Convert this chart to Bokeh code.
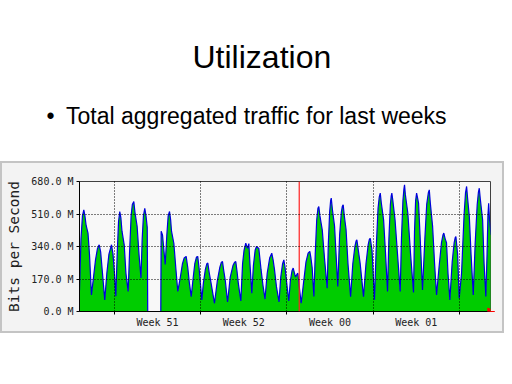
from bokeh.plotting import figure
from bokeh.models import Range1d, FixedTicker, Span, Arrow, NormalHead, Title
from bokeh.embed import file_html
from bokeh.resources import INLINE

# ---------------- data ----------------
title_text = "Utilization"
bullet_text = "Total aggregated traffic for last weeks"

# time in days since the start of Week 51 (one line per daily cycle)
days = [
    -2.84, -2.72, -2.60, -2.49, -2.40, -2.30, -2.15, -2.03, -1.87,
    -1.70, -1.54, -1.38, -1.24, -1.12, -1.00, -0.79,
    -0.62, -0.45, -0.24, -0.12, 0.00, 0.11,
    0.22, 0.33, 0.43, 0.52, 0.61, 0.79, 0.93, 1.11,
    1.22, 1.35, 1.45, 1.57, 1.66, 1.84, 1.99, 2.15,
    2.25, 2.35, 2.46, 2.56, 2.66, 2.70,
    3.76,
    3.79, 3.90, 4.12, 4.25, 4.36, 4.47, 4.56, 4.63, 4.82, 4.99, 5.14,
    5.35, 5.52, 5.66, 5.82, 5.95, 6.08, 6.23,
    6.38, 6.52, 6.66, 6.76, 6.88, 7.09,
    7.22, 7.38, 7.50, 7.58, 7.70, 7.84, 8.12,
    8.35, 8.55, 8.68, 8.77, 8.88, 9.00, 9.18,
    9.40, 9.62, 9.75, 9.85, 9.95, 10.05, 10.26,
    10.40, 10.52, 10.66, 10.80, 10.91, 11.00, 11.15,
    11.28, 11.42, 11.53, 11.72, 11.90, 12.05, 12.22,
    12.40, 12.60, 12.77, 12.88, 12.99, 13.15, 13.36,
    13.50, 13.65, 13.75, 13.85, 13.93, 14.15,
    14.28, 14.42, 14.51, 14.70, 14.82, 14.89, 15.02, 15.16,
    15.35, 15.55, 15.72, 15.86, 15.95, 16.05, 16.19,
    16.30, 16.42, 16.52, 16.59, 16.68, 16.87, 17.05, 17.27,
    17.36, 17.47, 17.55, 17.60, 17.70, 17.87, 17.99, 18.13,
    18.28, 18.42, 18.50, 18.57, 18.66, 18.80, 18.96, 19.17,
    19.35, 19.52, 19.62, 19.68, 19.80, 19.95, 20.22,
    20.42, 20.60, 20.70, 20.77, 20.91, 21.11,
    21.25, 21.40, 21.50, 21.58, 21.66, 21.85, 22.01, 22.17,
    22.28, 22.40, 22.47, 22.52, 22.60, 22.78, 22.98, 23.20,
    23.30, 23.42, 23.50, 23.55, 23.62, 23.82, 24.04, 24.28,
    24.36, 24.45, 24.53, 24.62, 24.69, 24.81, 25.01,
    25.20, 25.35, 25.48, 25.56, 25.64, 25.83, 25.99, 26.15,
    26.35, 26.55, 26.67, 26.74, 26.85, 26.96, 27.08, 27.23,
    27.42, 27.58, 27.66, 27.72, 27.80, 27.86, 27.99,
    28.18, 28.38, 28.50, 28.59, 28.66, 28.81, 28.95, 29.13,
    29.28, 29.45, 29.55, 29.62, 29.70, 29.89, 30.01, 30.15,
    30.25, 30.32, 30.38, 30.45, 30.57,
]

# traffic in Mbit/s (same layout as days)
traffic = [
    110, 380, 500, 532, 500, 450, 410, 300, 87,
    180, 270, 330, 349, 310, 220, 61,
    200, 300, 349, 300, 200, 80,
    300, 470, 523, 490, 420, 349, 200, 105,
    300, 500, 560, 575, 520, 445, 300, 175,
    380, 500, 540, 500, 440, 0,
    0,
    420, 400, 246, 400, 500, 523, 480, 420, 357, 220, 105,
    180, 250, 280, 288, 230, 150, 78,
    170, 250, 285, 288, 220, 61,
    150, 220, 250, 253, 200, 150, 43,
    160, 230, 258, 261, 210, 160, 50,
    180, 240, 258, 261, 210, 150, 55,
    250, 320, 357, 330, 355, 250, 96,
    240, 320, 340, 330, 220, 140, 65,
    200, 280, 305, 270, 220, 130, 50,
    180, 250, 270, 230, 180, 55,
    160, 215, 227, 180, 195, 200, 120, 43,
    150, 260, 305, 314, 280, 230, 78,
    300, 480, 540, 549, 500, 427, 280, 122,
    350, 520, 580, 593, 530, 445, 300, 131,
    400, 520, 550, 558, 500, 430, 250, 78,
    250, 340, 370, 375, 320, 250, 78,
    250, 350, 378, 383, 320, 61,
    330, 540, 600, 619, 570, 480, 300, 105,
    380, 560, 605, 619, 580, 480, 300, 105,
    380, 580, 640, 663, 610, 514, 300, 100,
    420, 580, 619, 590, 566, 400, 113,
    380, 560, 620, 636, 570, 445, 250, 87,
    230, 360, 400, 410, 380, 360, 200, 61,
    260, 360, 385, 392, 340, 300, 70,
    200, 500, 620, 654, 600, 497, 300, 87,
    350, 560, 625, 645, 590, 480, 250, 78,
    300, 500, 566, 480, 400,
]
assert len(days) == len(traffic)

week_starts = [0, 7, 14, 21, 28]
week_centers = [3.5, 10.5, 17.5, 24.5]
week_labels = ["Week 51", "Week 52", "Week 00", "Week 01"]
y_ticks = [0, 170, 340, 510, 680]
y_labels = ["0.0 M", "170.0 M", "340.0 M", "510.0 M", "680.0 M"]
month_start = 15.0
x_start, x_end = -2.84, 30.53
y_max = 680

# ---------------- figure ----------------
mono = "DejaVu Sans Mono"
sans = "Liberation Sans"
panel_bg = ("linear-gradient(#c4c4c4, #c4c4c4) 0px 161px / 2px 172px no-repeat, "
            "linear-gradient(#c4c4c4, #c4c4c4) 502px 161px / 2px 172px no-repeat, "
            "linear-gradient(to bottom, white 0px, white 161px, #c4c4c4 161px, #c4c4c4 163px, "
            "#f3f3f3 163px, #f3f3f3 331px, #c4c4c4 331px, #c4c4c4 333px, white 333px, white 100%)")
p = figure(width=504, height=376, x_range=Range1d(x_start, x_end), y_range=Range1d(0, y_max),
           toolbar_location=None, output_backend="svg",
           min_border_left=79, min_border_right=14, min_border_top=181, min_border_bottom=65,
           background_fill_color="#f8f8f8", border_fill_color=None,
           outline_line_color="#404040", outline_line_width=1,
           styles={"background": panel_bg})

# spacer, slide bullet and slide title, stacked upwards from the chart
p.add_layout(Title(text=" ", text_font_size="1px", standoff=47), "above")
p.add_layout(Title(text="\u2022\u2002" + bullet_text, align="left", offset=-33,
                   text_font=sans, text_font_size="23px", text_font_style="normal",
                   text_color="black", standoff=5), "above")
p.add_layout(Title(text=title_text, align="left", offset=113,
                   text_font=sans, text_font_size="32px", text_font_style="normal",
                   text_color="black", standoff=47), "above")

# data
p.varea(x=days, y1=[0] * len(days), y2=traffic, fill_color="#00cc00")
p.line(x=days, y=traffic, line_color="#0000dd", line_width=1.2)

# axes
p.yaxis.ticker = FixedTicker(ticks=y_ticks)
p.yaxis.major_label_overrides = {t: l for t, l in zip(y_ticks, y_labels)}
p.yaxis.axis_label = "Bits per Second"
p.yaxis.axis_label_text_font = mono
p.yaxis.axis_label_text_font_size = "14.5px"
p.yaxis.axis_label_text_font_style = "normal"
p.yaxis.axis_label_text_color = "#222222"
p.yaxis.axis_label_standoff = 6
p.yaxis.major_label_text_font = mono
p.yaxis.major_label_text_font_size = "10px"
p.yaxis.major_label_text_color = "#222222"
p.yaxis.major_label_standoff = 3
p.yaxis.major_tick_out = 3
p.yaxis.major_tick_in = 0
p.yaxis.minor_tick_line_color = None
p.yaxis.axis_line_color = "black"

p.xaxis.ticker = FixedTicker(ticks=week_centers, minor_ticks=week_starts)
p.xaxis.major_label_overrides = {t: l for t, l in zip(week_centers, week_labels)}
p.xaxis.major_label_text_font = mono
p.xaxis.major_label_text_font_size = "10px"
p.xaxis.major_label_text_color = "#222222"
p.xaxis.major_label_standoff = 2
p.xaxis.major_tick_line_color = None
p.xaxis.major_tick_out = 0
p.xaxis.minor_tick_out = 3
p.xaxis.minor_tick_in = 0
p.xaxis.minor_tick_line_color = "black"
p.xaxis.axis_line_color = "black"

# grids drawn over the data, MRTG style
p.xgrid.grid_line_color = None
p.xgrid.minor_grid_line_color = "black"
p.xgrid.minor_grid_line_dash = "1 2"
p.xgrid.level = "overlay"
p.ygrid.grid_line_color = "black"
p.ygrid.grid_line_dash = "1 2"
p.ygrid.level = "overlay"

# month boundary marker and time arrow
p.add_layout(Span(location=month_start, dimension="height", line_color="#ff2020", line_width=1.2))
p.add_layout(Arrow(end=NormalHead(size=7, fill_color="red", line_color="red"),
                   x_start=x_end - 0.1, y_start=0, x_end=x_end + 0.35, y_end=0,
                   line_color="red", line_width=1))

open("out.html", "w").write(file_html(p, INLINE))
